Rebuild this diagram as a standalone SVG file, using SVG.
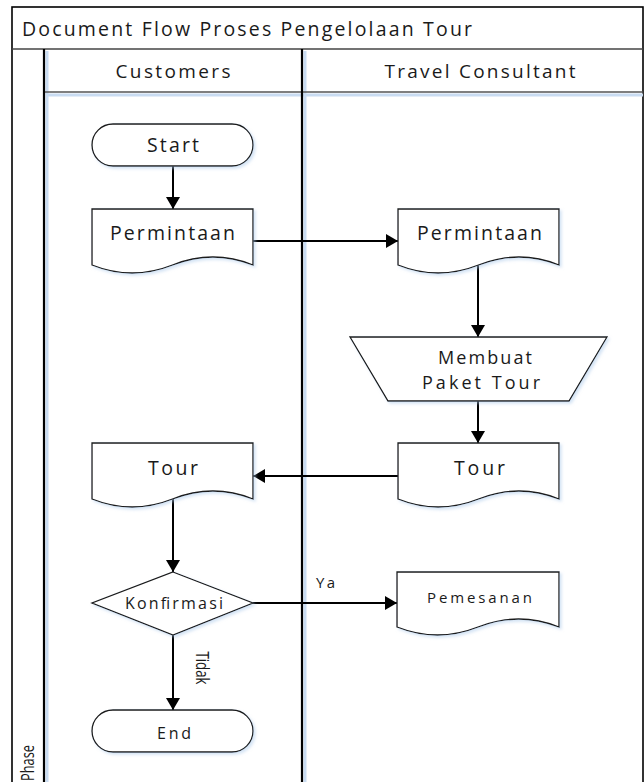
<svg xmlns="http://www.w3.org/2000/svg" width="644" height="782" viewBox="0 0 644 782">
<style>
.t{font-family:"Open Sans","Noto Sans",sans-serif;fill:#1a1a1a;text-anchor:middle}
.shape{fill:#fff;stroke:#1a1a1a;stroke-width:1.3}
.lane{stroke:#000;stroke-width:2.2;fill:none}
.glow{stroke:#c9dcf2;stroke-width:3;fill:none}
.conn{stroke:#000;stroke-width:2;fill:none}
</style>
<defs>
<marker id="arr" viewBox="0 0 12 14" refX="12" refY="7" markerWidth="12" markerHeight="14" markerUnits="userSpaceOnUse" orient="auto">
<path d="M0,0 L12,7 L0,14 Z" fill="#000"/>
</marker>
<filter id="sh" x="-10%" y="-10%" width="130%" height="140%">
<feDropShadow dx="2" dy="2" stdDeviation="1.5" flood-color="#a9c8ea" flood-opacity="0.5"/>
</filter>
</defs>
<rect width="644" height="782" fill="#fff"/>
<g id="pool">
<rect x="12" y="7" width="631" height="790" fill="#fff" stroke="#000" stroke-width="1.6"/>
<line class="glow" x1="46" y1="95" x2="643" y2="95"/>
<line class="glow" x1="47" y1="51" x2="47" y2="782"/>
<line class="glow" x1="305" y1="51" x2="305" y2="782"/>
<line x1="12" y1="49" x2="643" y2="49" stroke="#444" stroke-width="1.6"/>
<line x1="44" y1="92" x2="643" y2="92" stroke="#555" stroke-width="1.6"/>
<line class="lane" x1="44" y1="49" x2="44" y2="790"/>
<line class="lane" x1="302" y1="49" x2="302" y2="790"/>
<text class="t" x="22" y="35.5" font-size="19.5" style="text-anchor:start" textLength="450" lengthAdjust="spacing">Document Flow Proses Pengelolaan Tour</text>
<text class="t" x="173" y="77.5" font-size="19" textLength="115" lengthAdjust="spacing">Customers</text>
<text class="t" x="480" y="77.5" font-size="19" textLength="191" lengthAdjust="spacing">Travel Consultant</text>
<text class="t" transform="translate(27.5,763) rotate(-90)" y="6" font-size="18" textLength="36" lengthAdjust="spacingAndGlyphs">Phase</text>
</g>
<g id="connectors">
<line class="conn" x1="173" y1="166" x2="173" y2="209" marker-end="url(#arr)"/>
<line class="conn" x1="253" y1="241" x2="398" y2="241" marker-end="url(#arr)"/>
<line class="conn" x1="478" y1="265" x2="478" y2="337" marker-end="url(#arr)"/>
<line class="conn" x1="478" y1="401" x2="478" y2="443" marker-end="url(#arr)"/>
<line class="conn" x1="398" y1="476" x2="253" y2="476" marker-end="url(#arr)"/>
<line class="conn" x1="173" y1="499" x2="173" y2="572" marker-end="url(#arr)"/>
<line class="conn" x1="253" y1="603" x2="397" y2="603" marker-end="url(#arr)"/>
<line class="conn" x1="173" y1="635" x2="173" y2="710" marker-end="url(#arr)"/>
<text class="t" x="325.5" y="587.5" font-size="15" textLength="19" lengthAdjust="spacing">Ya</text>
<text class="t" transform="translate(202,668) rotate(90)" y="6" font-size="18" textLength="33" lengthAdjust="spacingAndGlyphs">Tidak</text>
</g>
<g id="start">
<rect class="shape" x="92" y="124" width="161" height="42" rx="21" filter="url(#sh)"/>
<text class="t" x="173" y="152" font-size="19.5" textLength="52" lengthAdjust="spacing">Start</text>
</g>
<g id="permintaan-c">
<path class="shape" filter="url(#sh)" d="M92,209 H253 V265 Q213,249 172.5,265 T92,265 Z"/>
<text class="t" x="172.5" y="240" font-size="19.5" textLength="125" lengthAdjust="spacing">Permintaan</text>
</g>
<g id="permintaan-tc">
<path class="shape" filter="url(#sh)" d="M398,209 H559 V265 Q519,249 478.5,265 T398,265 Z"/>
<text class="t" x="479.5" y="240" font-size="19.5" textLength="125" lengthAdjust="spacing">Permintaan</text>
</g>
<g id="membuat">
<path class="shape" filter="url(#sh)" d="M350,337 H607 L569,401 H388 Z"/>
<text class="t" x="485" y="364" font-size="18" textLength="94" lengthAdjust="spacing">Membuat</text>
<text class="t" x="481" y="389" font-size="18" textLength="118" lengthAdjust="spacing">Paket Tour</text>
</g>
<g id="tour-tc">
<path class="shape" filter="url(#sh)" d="M398,443 H559 V499 Q519,483 478.5,499 T398,499 Z"/>
<text class="t" x="479.5" y="475" font-size="19.5" textLength="51" lengthAdjust="spacing">Tour</text>
</g>
<g id="tour-c">
<path class="shape" filter="url(#sh)" d="M92,443 H253 V499 Q213,483 172.5,499 T92,499 Z"/>
<text class="t" x="173" y="475" font-size="19.5" textLength="50" lengthAdjust="spacing">Tour</text>
</g>
<g id="konfirmasi">
<path class="shape" filter="url(#sh)" d="M173,572 L253,603 L173,635 L92,603 Z"/>
<text class="t" x="174" y="608.5" font-size="16" textLength="98" lengthAdjust="spacing">Konfirmasi</text>
</g>
<g id="pemesanan">
<path class="shape" filter="url(#sh)" d="M397,572 H559 V627 Q518.5,611 478,627 T397,627 Z"/>
<text class="t" x="479.5" y="602.5" font-size="15" textLength="105" lengthAdjust="spacing">Pemesanan</text>
</g>
<g id="end">
<rect class="shape" x="92" y="710" width="161" height="42" rx="21" filter="url(#sh)"/>
<text class="t" x="174" y="739" font-size="16" textLength="34" lengthAdjust="spacing">End</text>
</g>
</svg>
